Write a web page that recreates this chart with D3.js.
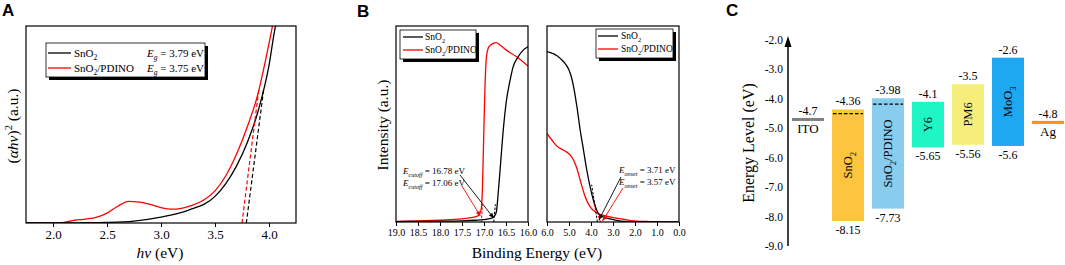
<!DOCTYPE html>
<html><head><meta charset="utf-8">
<script src="https://cdn.jsdelivr.net/npm/d3@7"></script>
<style>
body{margin:0;background:#fff}
svg{display:block}
</style>
</head><body><svg id="c" width="1065" height="265" font-family="'Liberation Serif','Times New Roman','DejaVu Serif',serif"></svg>
<script>
// ---------- Panel A: Tauc plot ----------
const aBlackX = [1.75, 2.0, 2.25, 2.5, 2.75, 3.0, 3.25, 3.5, 3.6, 3.7, 3.8, 3.9, 4.0, 4.05, 4.1];
const aBlackY = [0, 0, 0.001, 0.003, 0.01, 0.03, 0.064, 0.135, 0.2, 0.29, 0.41, 0.57, 0.8, 0.97, 1.1];
const aRedX = [1.75, 2.0, 2.1, 2.2, 2.3, 2.4, 2.5, 2.6, 2.7, 2.8, 2.9, 3.0, 3.1, 3.2, 3.3, 3.4, 3.5, 3.6, 3.7, 3.8, 3.9, 3.95, 4.0, 4.05];
const aRedY = [0, 0, 0.003, 0.014, 0.02, 0.028, 0.05, 0.085, 0.11, 0.106, 0.094, 0.078, 0.07, 0.076, 0.092, 0.118, 0.163, 0.24, 0.35, 0.49, 0.66, 0.78, 0.91, 1.05];
const aTicks = [2.0, 2.5, 3.0, 3.5, 4.0];
const aEg = {black: 3.79, red: 3.75};

// ---------- Panel B: UPS ----------
const bCutX = [19.0, 18.5, 18.0, 17.5, 17.2, 17.0, 16.9, 16.82, 16.78, 16.72, 16.68, 16.64, 16.57, 16.49, 16.41, 16.34, 16.23, 16.11, 16.0];
const bCutBlack = [0.002, 0.003, 0.004, 0.006, 0.009, 0.012, 0.016, 0.02, 0.026, 0.05, 0.14, 0.25, 0.45, 0.62, 0.72, 0.79, 0.84, 0.877, 0.894];
const bCutRedX = [19.0, 18.5, 18.0, 17.5, 17.3, 17.15, 17.095, 17.06, 17.035, 17.005, 16.975, 16.944, 16.89, 16.79, 16.72, 16.64, 16.49, 16.26, 16.0];
const bCutRed = [0.003, 0.006, 0.01, 0.016, 0.022, 0.03, 0.043, 0.07, 0.18, 0.45, 0.707, 0.843, 0.894, 0.911, 0.915, 0.903, 0.877, 0.843, 0.796];
const bOnX = [6.0, 5.4, 4.94, 4.79, 4.64, 4.49, 4.34, 4.19, 4.04, 3.89, 3.66, 3.43, 2.98, 2.53, 2.0, 1.0, 0.0];
const bOnBlack = [0.869, 0.835, 0.758, 0.69, 0.588, 0.468, 0.366, 0.264, 0.179, 0.111, 0.043, 0.026, 0.012, 0.003, 0.001, 0.0, 0.0];
const bOnRedX = [6.0, 5.77, 5.55, 5.24, 4.94, 4.79, 4.64, 4.49, 4.26, 4.04, 3.73, 3.43, 2.98, 2.53, 2.07, 1.32, 0.0];
const bOnRed = [0.451, 0.417, 0.387, 0.366, 0.341, 0.315, 0.273, 0.213, 0.128, 0.077, 0.046, 0.034, 0.022, 0.014, 0.005, 0.002, 0.0];
const bCutTicks = [19.0, 18.5, 18.0, 17.5, 17.0, 16.5, 16.0];
const bOnTicks = [6.0, 5.0, 4.0, 3.0, 2.0, 1.0, 0.0];
const bCutoff = {black: 16.78, red: 17.06};
const bOnset = {black: 3.71, red: 3.57};

// ---------- Panel C: energy levels ----------
const cNames = ["ITO", "SnO2", "SnO2/PDINO", "Y6", "PM6", "MoO3", "Ag"];
const cTop = [-4.7, -4.36, -3.98, -4.1, -3.5, -2.6, -4.8];
const cBottom = [null, -8.15, -7.73, -5.65, -5.56, -5.6, null];
const cDashed = [null, -4.5, -4.18, null, null, null, null];
const cColors = ["#808080", "#FDC53D", "#88CDEE", "#1EF7C5", "#F6EE7B", "#1EA8F2", "#FF8A1F"];
const cTicks = [-2, -3, -4, -5, -6, -7, -8, -9];

const svg = d3.select("#c");
const RED = "#ff0000";
const SERIF = "'Liberation Serif','Times New Roman','DejaVu Serif',serif";

function rich(g, x, y, size, parts, anchor) {
  const t = g.append("text").attr("x", x).attr("y", y).attr("font-size", size)
    .attr("text-anchor", anchor || "start");
  let shift = 0;
  parts.forEach(p => {
    const s = p[0], st = p[1] || {};
    const ts = t.append("tspan").text(s);
    const target = st.sub ? size * 0.3 : st.sup ? -size * 0.42 : 0;
    if (target !== shift) { ts.attr("dy", target - shift); shift = target; }
    if (st.sub || st.sup) ts.attr("font-size", size * 0.68);
    if (st.i) ts.attr("font-style", "italic");
  });
  return t;
}
const SUB = {sub: true}, IT = {i: true}, ISUB = {i: true, sub: true}, SUP = {sup: true};

function frame(x0, y0, x1, y1) {
  svg.append("rect").attr("x", x0).attr("y", y0).attr("width", x1 - x0).attr("height", y1 - y0)
    .attr("fill", "none").attr("stroke", "#000").attr("stroke-width", 1.2);
}
function clip(id, x0, y0, x1, y1) {
  svg.append("clipPath").attr("id", id).append("rect")
    .attr("x", x0).attr("y", y0).attr("width", x1 - x0).attr("height", y1 - y0);
}
function xAxis(scale, y, ticks, minor, fs, fmt) {
  const g = svg.append("g").attr("transform", `translate(0,${y})`);
  g.call(d3.axisBottom(scale).tickValues(minor).tickSize(2).tickFormat("").tickSizeOuter(0));
  g.call(d3.axisBottom(scale).tickValues(ticks).tickSize(4).tickSizeOuter(0).tickFormat(fmt));
  g.select(".domain").remove();
  g.attr("font-family", SERIF);
  g.selectAll("line").attr("stroke", "#000").attr("stroke-width", 1);
  g.selectAll("text").attr("font-size", fs).attr("fill", "#000");
  return g;
}
function legend(x0, y0, w, h, rows, lineX0, lineX1, textX, fs) {
  svg.append("rect").attr("x", x0 + 3).attr("y", y0 + 3).attr("width", w).attr("height", h).attr("fill", "#000");
  svg.append("rect").attr("x", x0).attr("y", y0).attr("width", w).attr("height", h)
    .attr("fill", "#fff").attr("stroke", "#000").attr("stroke-width", 0.8);
  rows.forEach(r => {
    svg.append("line").attr("x1", lineX0).attr("x2", lineX1).attr("y1", r.y).attr("y2", r.y)
      .attr("stroke", r.color).attr("stroke-width", 1.3);
    rich(svg, textX, r.y + fs * 0.33, fs, r.parts);
    if (r.extra) rich(svg, r.extraX, r.y + fs * 0.33, fs, r.extra);
  });
}
function arrow(x1, y1, x2, y2, color) {
  svg.append("line").attr("x1", x1).attr("y1", y1).attr("x2", x2).attr("y2", y2)
    .attr("stroke", color).attr("stroke-width", 0.9);
  const a = Math.atan2(y2 - y1, x2 - x1), L = 5, W = 2.2;
  const bx = x2 - L * Math.cos(a), by = y2 - L * Math.sin(a);
  svg.append("path").attr("d",
    `M${x2},${y2}L${bx + W * Math.sin(a)},${by - W * Math.cos(a)}L${bx - W * Math.sin(a)},${by + W * Math.cos(a)}Z`)
    .attr("fill", color);
}

// ================= Panel A =================
{
  const L = 26, R = 296, T = 26, B = 223;
  const x = d3.scaleLinear().domain([1.75, 4.25]).range([L, R]);
  const y = d3.scaleLinear().domain([0, 1]).range([B, T]);
  clip("clipA", L, T, R, B);
  const line = d3.line().x(d => x(d[0])).y(d => y(d[1])).curve(d3.curveMonotoneX);
  const gp = svg.append("g").attr("clip-path", "url(#clipA)");
  gp.append("path").datum(aRedX.map((v, i) => [v, aRedY[i]])).attr("d", line)
    .attr("fill", "none").attr("stroke", RED).attr("stroke-width", 1.3);
  gp.append("path").datum(aBlackX.map((v, i) => [v, aBlackY[i]])).attr("d", line)
    .attr("fill", "none").attr("stroke", "#000").attr("stroke-width", 1.3);
  gp.append("line").attr("x1", x(aEg.red)).attr("y1", y(0)).attr("x2", x(3.905)).attr("y2", y(0.675))
    .attr("stroke", RED).attr("stroke-width", 1.2).attr("stroke-dasharray", "4,2.5");
  gp.append("line").attr("x1", x(aEg.black)).attr("y1", y(0)).attr("x2", x(3.95)).attr("y2", y(0.675))
    .attr("stroke", "#000").attr("stroke-width", 1.2).attr("stroke-dasharray", "4,2.5");
  frame(L, T, R, B);
  xAxis(x, B, aTicks, [2.25, 2.75, 3.25, 3.75], 13, d3.format(".1f"));
  rich(svg, 160, 258, 15.5, [["hν", IT], [" (eV)"]], "middle");
  rich(svg.append("g").attr("transform", "translate(18,126) rotate(-90)"), 0, 0, 15.5,
    [["("], ["αhν", IT], [")"], ["2", SUP], [" (a.u.)"]], "middle");
  legend(46, 43, 159, 34, [
    {y: 53, color: "#000", parts: [["SnO"], ["2", SUB]], extraX: 147, extra: [["E", IT], ["g", ISUB], [" = 3.79 eV"]]},
    {y: 68, color: RED, parts: [["SnO"], ["2", SUB], ["/PDINO"]], extraX: 147, extra: [["E", IT], ["g", ISUB], [" = 3.75 eV"]]}
  ], 48, 71, 74, 11);
}

// ================= Panel B =================
{
  const T = 26, B = 222;
  const y = d3.scaleLinear().domain([0, 1]).range([B, T]);
  const L1 = 396, R1 = 528;
  const x1 = d3.scaleLinear().domain([19, 16]).range([L1, R1]);
  clip("clipB1", L1, T, R1, B);
  const line1 = d3.line().x(d => x1(d[0])).y(d => y(d[1])).curve(d3.curveMonotoneX);
  const g1 = svg.append("g").attr("clip-path", "url(#clipB1)");
  g1.append("path").datum(bCutRedX.map((v, i) => [v, bCutRed[i]])).attr("d", line1)
    .attr("fill", "none").attr("stroke", RED).attr("stroke-width", 1.3);
  g1.append("path").datum(bCutX.map((v, i) => [v, bCutBlack[i]])).attr("d", line1)
    .attr("fill", "none").attr("stroke", "#000").attr("stroke-width", 1.3);
  g1.append("line").attr("x1", x1(bCutoff.red)).attr("y1", y(0)).attr("x2", x1(17.035)).attr("y2", y(0.09))
    .attr("stroke", RED).attr("stroke-width", 1).attr("stroke-dasharray", "2.5,1.5");
  g1.append("line").attr("x1", x1(bCutoff.black)).attr("y1", y(0)).attr("x2", x1(16.74)).attr("y2", y(0.09))
    .attr("stroke", "#000").attr("stroke-width", 1).attr("stroke-dasharray", "2.5,1.5");
  frame(L1, T, R1, B);
  xAxis(x1, B, bCutTicks, [18.75, 18.25, 17.75, 17.25, 16.75, 16.25], 10, d3.format(".1f"));
  legend(400, 30, 76, 29, [
    {y: 37, color: "#000", parts: [["SnO"], ["2", SUB]]},
    {y: 50, color: RED, parts: [["SnO"], ["2", SUB], ["/PDINO"]]}
  ], 403, 423, 425, 9.5);
  rich(svg, 403, 174, 9, [["E", IT], ["cutoff", ISUB], [" = 16.78 eV"]]);
  rich(svg, 403, 186, 9, [["E", IT], ["cutoff", ISUB], [" = 17.06 eV"]]);
  arrow(460, 175, x1(bCutoff.black), y(0.02), "#000");
  arrow(462, 186, x1(bCutoff.red) - 1, y(0.03), RED);

  const L2 = 547, R2 = 679;
  const x2 = d3.scaleLinear().domain([6, 0]).range([L2, R2]);
  clip("clipB2", L2, T, R2, B);
  const line2 = d3.line().x(d => x2(d[0])).y(d => y(d[1])).curve(d3.curveMonotoneX);
  const g2 = svg.append("g").attr("clip-path", "url(#clipB2)");
  g2.append("path").datum(bOnRedX.map((v, i) => [v, bOnRed[i]])).attr("d", line2)
    .attr("fill", "none").attr("stroke", RED).attr("stroke-width", 1.3);
  g2.append("path").datum(bOnX.map((v, i) => [v, bOnBlack[i]])).attr("d", line2)
    .attr("fill", "none").attr("stroke", "#000").attr("stroke-width", 1.3);
  g2.append("line").attr("x1", x2(bOnset.black)).attr("y1", y(0)).attr("x2", x2(3.97)).attr("y2", y(0.19))
    .attr("stroke", "#000").attr("stroke-width", 1).attr("stroke-dasharray", "2.5,1.5");
  g2.append("line").attr("x1", x2(bOnset.red)).attr("y1", y(0)).attr("x2", x2(3.9)).attr("y2", y(0.1))
    .attr("stroke", RED).attr("stroke-width", 1).attr("stroke-dasharray", "2.5,1.5");
  frame(L2, T, R2, B);
  xAxis(x2, B, bOnTicks, [5.5, 4.5, 3.5, 2.5, 1.5, 0.5], 10, d3.format(".1f"));
  legend(596, 29, 77, 29, [
    {y: 36, color: "#000", parts: [["SnO"], ["2", SUB]]},
    {y: 49, color: RED, parts: [["SnO"], ["2", SUB], ["/PDINO"]]}
  ], 598, 618, 621, 9.5);
  rich(svg, 619, 173, 9, [["E", IT], ["onset", ISUB], [" = 3.71 eV"]]);
  rich(svg, 619, 185, 9, [["E", IT], ["onset", ISUB], [" = 3.57 eV"]]);
  arrow(621, 177, x2(bOnset.black) + 1.5, y(0.01), "#000");
  arrow(623, 188, x2(bOnset.red) + 2, y(0.005), RED);

  rich(svg, 537, 258, 15.5, [["Binding Energy (eV)"]], "middle");
  rich(svg.append("g").attr("transform", "translate(388,125) rotate(-90)"), 0, 0, 15.5,
    [["Intensity (a.u.)"]], "middle");
}

// ================= Panel C =================
{
  const AX = 788;
  const y = d3.scaleLinear().domain([-2, -9]).range([40, 246]);
  const x = d3.scaleBand().domain(cNames).range([788, 1068]).paddingInner(0.2).paddingOuter(0.1);
  svg.append("line").attr("x1", AX).attr("x2", AX).attr("y1", y(-9)).attr("y2", 44)
    .attr("stroke", "#000").attr("stroke-width", 1.5);
  svg.append("path").attr("d", `M${AX},${y(-2) - 4}L${AX - 3.5},${y(-2) + 7}L${AX + 3.5},${y(-2) + 7}Z`).attr("fill", "#000");
  svg.append("g").selectAll("text").data(cTicks).join("text")
    .attr("x", AX - 5).attr("y", d => y(d)).attr("dy", "0.35em").attr("text-anchor", "end")
    .attr("font-size", 11.5).text(d => d3.format(".1f")(d).replace("−", "-"));
  rich(svg.append("g").attr("transform", "translate(754,143) rotate(-90)"), 0, 0, 16,
    [["Energy Level (eV)"]], "middle");

  cNames.forEach((n, i) => {
    const x0 = x(n), w = x.bandwidth(), cx = x0 + w / 2;
    if (cBottom[i] === null) {
      svg.append("line").attr("x1", x0).attr("x2", x0 + w).attr("y1", y(cTop[i])).attr("y2", y(cTop[i]))
        .attr("stroke", cColors[i]).attr("stroke-width", 3);
      svg.append("text").attr("x", cx).attr("y", y(cTop[i]) - 4).attr("text-anchor", "middle")
        .attr("font-size", 12).text(cTop[i].toString());
      svg.append("text").attr("x", cx).attr("y", y(cTop[i]) + 14).attr("text-anchor", "middle")
        .attr("font-size", 13).text(n);
    } else {
      svg.append("rect").attr("x", x0).attr("y", y(cTop[i])).attr("width", w)
        .attr("height", y(cBottom[i]) - y(cTop[i])).attr("fill", cColors[i]);
      if (cDashed[i] !== null) {
        svg.append("line").attr("x1", x0 + 1).attr("x2", x0 + w - 1).attr("y1", y(cDashed[i])).attr("y2", y(cDashed[i]))
          .attr("stroke", "#000").attr("stroke-width", 1.2).attr("stroke-dasharray", "3.5,2");
      }
      svg.append("text").attr("x", cx).attr("y", y(cTop[i]) - 4).attr("text-anchor", "middle")
        .attr("font-size", 12).text(cTop[i].toString());
      svg.append("text").attr("x", cx).attr("y", y(cBottom[i]) + 13).attr("text-anchor", "middle")
        .attr("font-size", 12).text(cBottom[i].toString());
      const ym = (y(cTop[i]) + y(cBottom[i])) / 2;
      const g = svg.append("g").attr("transform", `translate(${cx + 4},${ym}) rotate(-90)`);
      let parts;
      if (n === "SnO2") parts = [["SnO"], ["2", SUB]];
      else if (n === "SnO2/PDINO") parts = [["SnO"], ["2", SUB], ["/PDINO"]];
      else if (n === "MoO3") parts = [["MoO"], ["3", SUB]];
      else parts = [[n]];
      rich(g, 0, 0, 12.5, parts, "middle");
    }
  });
}

// panel letters and font enforcement
svg.selectAll("text").style("font-family", SERIF);
[["A", 2, 16], ["B", 357, 17], ["C", 726, 16]].forEach(([t, x, y]) => {
  svg.append("text").attr("x", x).attr("y", y).attr("font-size", 17)
    .style("font-family", "'Liberation Sans',Arial,sans-serif").attr("font-weight", "bold").text(t);
});
</script></body></html>
